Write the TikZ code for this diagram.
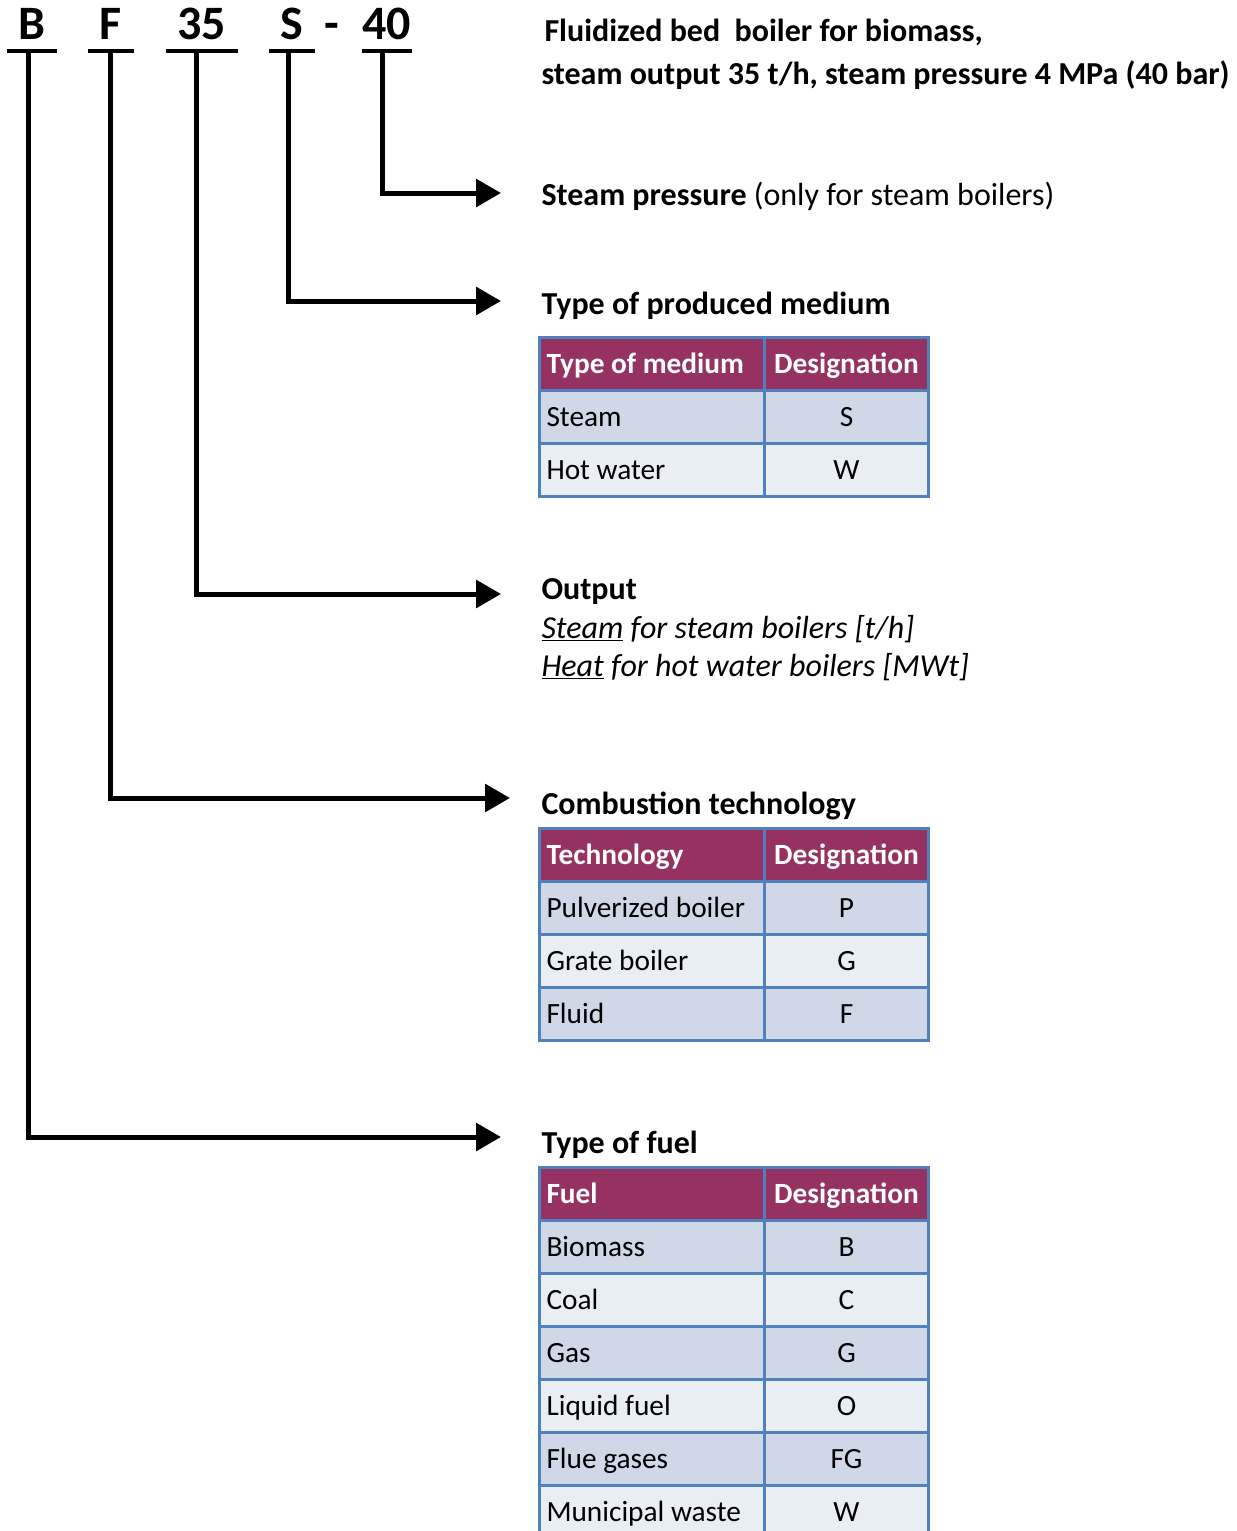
\documentclass[tikz,border=0pt]{standalone}
\usepackage{fontspec}
\setmainfont{Carlito}
\usetikzlibrary{arrows.meta}

\definecolor{hdrred}{RGB}{150,50,98}
\definecolor{rowdark}{RGB}{208,216,232}
\definecolor{rowlight}{RGB}{233,237,244}
\definecolor{gridblue}{RGB}{79,129,189}

\tikzset{every picture/.style={line width=0.75pt}}
\tikzset{
  code/.style={font=\fontsize{36}{40}\selectfont\bfseries, anchor=base, text depth=0pt, inner xsep=0pt, inner ysep=8.25pt},
  uline/.style={line width=3pt},
  conn/.style={line width=3.75pt, -{Triangle[length=18.75pt,width=20.5pt]}},
  ttl/.style={font=\fontsize{24}{28}\selectfont\bfseries, anchor=base west, inner sep=0pt},
  txt/.style={font=\fontsize{24}{28}\selectfont, anchor=base west, inner sep=0pt},
  cell/.style={draw=gridblue, line width=2.25pt, anchor=north west, minimum height=39.75pt, inner xsep=5.25pt, inner ysep=0pt, text height=14.2pt, text depth=0pt, font=\fontsize{22}{26}\selectfont},
  colA/.style={cell, text width=158.25pt, align=flush left},
  colB/.style={cell, text width=112.5pt, align=flush center},
  hdr/.style={fill=hdrred, text=white, font=\fontsize{22}{26}\selectfont\bfseries},
  dark/.style={fill=rowdark},
  light/.style={fill=rowlight}
}

\begin{document}
\begin{tikzpicture}[x=0.75pt,y=0.75pt,yscale=-1,xscale=1]
\useasboundingbox (0,0) rectangle (1237,1531);

% Code letters
\node[code, minimum width=36.75pt] (cB) at (31.5,39) {B};
\node[code, minimum width=33.75pt] (cF) at (110.5,39) {F};
\node[code, minimum width=53.25pt] (c35) at (201.5,39) {35};
\node[code, minimum width=33.75pt] (cS) at (291.5,39) {S};
\node[code] (cdash) at (332,39) {-};
\node[code, minimum width=36.75pt] (c40) at (386.5,39) {40};

% Underlines
\draw[uline] (cB.south west) -- (cB.south east);
\draw[uline] (cF.south west) -- (cF.south east);
\draw[uline] (c35.south west) -- (c35.south east);
\draw[uline] (cS.south west) -- (cS.south east);
\draw[uline] (c40.south west) -- (c40.south east);

% Arrow ends
\coordinate (e40) at (501,193);
\coordinate (eS) at (501,301);
\coordinate (e35) at (501,594);
\coordinate (eF) at (510,798);
\coordinate (eB) at (501,1137);

%Straight Lines
\draw[conn] ([xshift=-3pt]c40.south) |- (e40);
\draw[conn] ([xshift=-2.5pt]cS.south) |- (eS);
\draw[conn] ([xshift=-4pt]c35.south) |- (e35);
\draw[conn] (cF.south) |- (eF);
\draw[conn] ([xshift=-2pt]cB.south) |- (eB);

% Text Node
\node[ttl] (title1) at (544,41) {Fluidized bed\ \ boiler for biomass,};
\node[ttl] (title2) at (541,84) {steam output 35 t/h, steam pressure 4 MPa (40 bar)};
% Text Node
\node[ttl] (tPress) at (541,205) {Steam pressure \normalfont(only for steam boilers)};
% Text Node
\node[ttl] (tMed) at (541,314) {Type of produced medium};
% Text Node
\node[ttl] (tOut) at (541,599) {Output};
\node[txt] (tOut1) at (541,638) {\itshape\underline{Steam} for steam boilers [t/h]};
\node[txt] (tOut2) at (541,676) {\itshape\underline{Heat} for hot water boilers [MWt]};
% Text Node
\node[ttl] (tTech) at (541,814) {Combustion technology};
% Text Node
\node[ttl] (tFuel) at (541,1153) {Type of fuel};

% Table: medium
\node[colA, hdr] (medH1) at (538,336) {Type of medium};
\node[colB, hdr] (medH2) at (763,336) {Designation};
\node[colA, dark] (med1a) at (538,389) {Steam};
\node[colB, dark] (med1b) at (763,389) {S};
\node[colA, light] (med2a) at (538,442) {Hot water};
\node[colB, light] (med2b) at (763,442) {W};

% Table: technology
\node[colA, hdr] (tecH1) at (538,827) {Technology};
\node[colB, hdr] (tecH2) at (763,827) {Designation};
\node[colA, dark] (tec1a) at (538,880) {Pulverized boiler};
\node[colB, dark] (tec1b) at (763,880) {P};
\node[colA, light] (tec2a) at (538,933) {Grate boiler};
\node[colB, light] (tec2b) at (763,933) {G};
\node[colA, dark] (tec3a) at (538,986) {Fluid};
\node[colB, dark] (tec3b) at (763,986) {F};

% Table: fuel
\node[colA, hdr] (fueH1) at (538,1166) {Fuel};
\node[colB, hdr] (fueH2) at (763,1166) {Designation};
\node[colA, dark] (fue1a) at (538,1219) {Biomass};
\node[colB, dark] (fue1b) at (763,1219) {B};
\node[colA, light] (fue2a) at (538,1272) {Coal};
\node[colB, light] (fue2b) at (763,1272) {C};
\node[colA, dark] (fue3a) at (538,1325) {Gas};
\node[colB, dark] (fue3b) at (763,1325) {G};
\node[colA, light] (fue4a) at (538,1378) {Liquid fuel};
\node[colB, light] (fue4b) at (763,1378) {O};
\node[colA, dark] (fue5a) at (538,1431) {Flue gases};
\node[colB, dark] (fue5b) at (763,1431) {FG};
\node[colA, light] (fue6a) at (538,1484) {Municipal waste};
\node[colB, light] (fue6b) at (763,1484) {W};

\end{tikzpicture}
\end{document}
